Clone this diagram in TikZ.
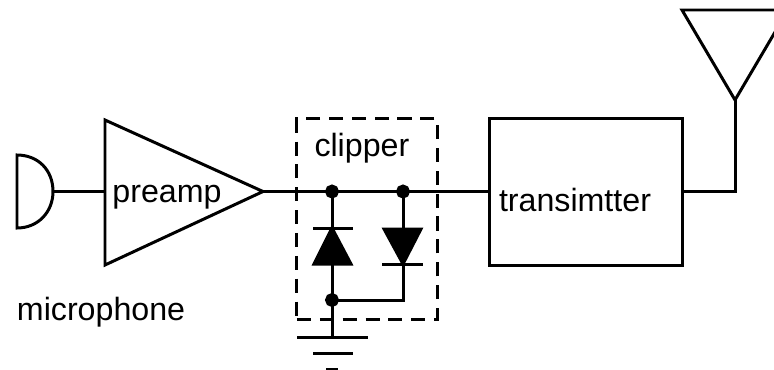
\documentclass[tikz,border=0pt]{standalone}
\usepackage{fontspec}
\setmainfont{Liberation Sans}
\usetikzlibrary{positioning}
\begin{document}
\begin{tikzpicture}
	[
	x=0.01cm, y=-0.01cm, yshift=3.69cm,
	line width=0.85pt,
	dot/.style = {draw,fill,circle,inner sep=1.1pt},
	label text/.style = {anchor=base west,inner sep=0pt,font=\fontsize{9.15}{11}\selectfont},
	box/.style = {draw,rectangle,inner sep=0pt},
	dashbox/.style = {box,dash pattern=on 4pt off 2.5pt}
	]
	\useasboundingbox (0,0) rectangle (774,369);
	\clip (0,0) rectangle (774,369);

	\coordinate (mictop) at (17,155);
	\coordinate (micbot) at (17,228);
	\coordinate (micout) at (53,191.5);
	\coordinate (ampin) at (105,191.5);
	\coordinate (amptop) at (105,120);
	\coordinate (ampbot) at (105,265);
	\coordinate (ampout) at (263,191.5);
	\coordinate (anttop) at (735,100);
	\coordinate (antl) at (682,10);
	\coordinate (antr) at (788,10);
	\coordinate (j1) at (332,191.5);
	\coordinate (j2) at (403,191.5);
	\coordinate (j3) at (332,300);
	\coordinate (gnd) at (332,337);

	% boxes
	\node[box,minimum width=1.92cm,minimum height=1.46cm] (tx) at (586,192) {};
	\node[dashbox,minimum width=1.40cm,minimum height=2.00cm] (clip) at (367,219) {};

	% microphone
	\draw (mictop) -- (micbot) .. controls (38,228) and (53,212) .. (micout)
		.. controls (53,170) and (38,155) .. (mictop) -- cycle;
	\draw (micout) -- (ampin);

	% amplifier
	\draw (amptop) -- (ampbot) -- (ampout) -- cycle;

	% wires
	\draw (ampout) -- (ampout -| tx.west);
	\draw (j1) -- (gnd);
	\draw (j2) |- (j3);
	\draw (ampout -| tx.east) -| (anttop);

	% left diode
	\draw[fill] (332,228) -- (351,264) -- (314,264) -- cycle;
	\draw (313,228) -- (353,228);

	% right diode
	\draw[fill] (384,229) -- (421,229) -- (403,264) -- cycle;
	\draw (382,264) -- (423,264);

	% ground
	\draw (297,337) -- (368,337);
	\draw (313,353) -- (353,353);
	\draw (326,369) -- (338,369);

	% antenna
	\draw (antl) -- (antr) -- (anttop) -- cycle;

	\node[dot] (dot1) at (j1) {};
	\node[dot] (dot2) at (j2) {};
	\node[dot] (dot3) at (j3) {};

	\node[label text] (preamp) at (111,202) {preamp};
	\node[label text] (microphone) at (15.5,320) {microphone};
	\node[label text] (clipper) at (313,156) {clipper};
	\node[label text] (transmitter) at (497.5,211) {transimtter};
\end{tikzpicture}
\end{document}
